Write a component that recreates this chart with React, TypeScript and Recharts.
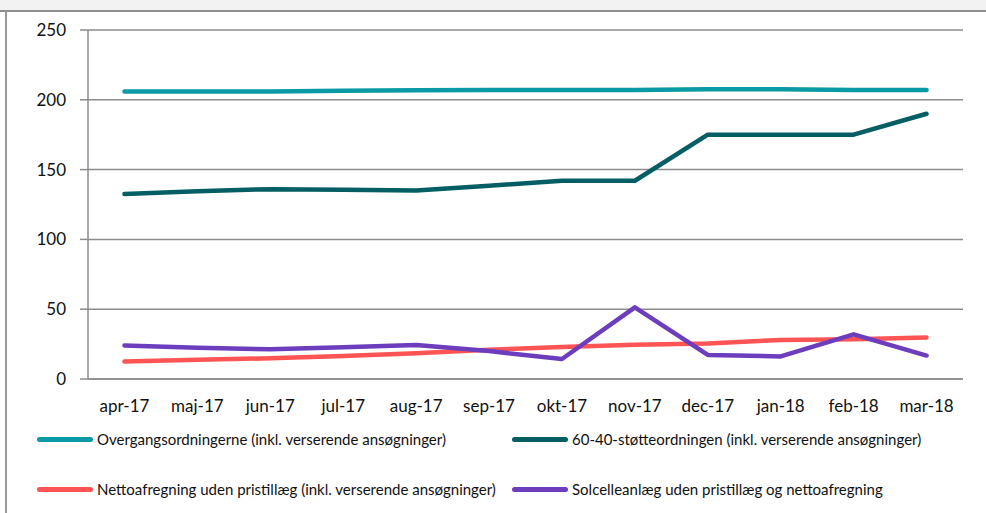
import React from "react";
import { LineChart, Line, XAxis, YAxis, CartesianGrid } from "recharts";

const months = ["apr-17","maj-17","jun-17","jul-17","aug-17","sep-17","okt-17","nov-17","dec-17","jan-18","feb-18","mar-18"];
const overgang = [206, 206, 206, 206.5, 206.8, 207, 207, 207, 207.5, 207.5, 207, 207];
const stotte6040 = [132.5, 134.5, 136, 135.5, 135, 138.5, 142, 142, 175, 175, 175, 190];
const netto = [12.5, 13.8, 14.8, 16.5, 18.4, 21, 23, 24.5, 25.5, 28, 28.5, 29.7];
const solcelle = [24, 22.3, 21.3, 22.8, 24.4, 20, 14.3, 51.3, 17.2, 16.2, 32, 16.8];
const yTicks = [0, 50, 100, 150, 200, 250];
const boundaryTicks = [0,1,2,3,4,5,6,7,8,9,10,11,12];
const midTicks = months.map((_, i) => i + 0.5);

const seriesDefs = [
  { key: "overgang", name: "Overgangsordningerne (inkl. verserende ansøgninger)", color: "#0a9aa6" },
  { key: "stotte6040", name: "60-40-støtteordningen (inkl. verserende ansøgninger)", color: "#045e63" },
  { key: "netto", name: "Nettoafregning uden pristillæg (inkl. verserende ansøgninger)", color: "#ff5454" },
  { key: "solcelle", name: "Solcelleanlæg uden pristillæg og nettoafregning", color: "#6c3dbd" },
];

const data = months.map((m, i) => ({
  pos: i + 0.5,
  month: m,
  overgang: overgang[i],
  stotte6040: stotte6040[i],
  netto: netto[i],
  solcelle: solcelle[i],
}));

const FONT = "Lato, 'Open Sans', sans-serif";
const AXIS = "#8c8c8c";

const LegendBlock = () => (
  <div style={{ position: "absolute", left: 0, top: 429, width: 986, height: 84, fontFamily: FONT, fontSize: 15, color: "#111" }}>
    {seriesDefs.map((s, i) => {
      const col = i % 2;
      const row = Math.floor(i / 2);
      return (
        <div key={s.key} style={{ position: "absolute", left: col === 0 ? 37 : 512, top: row * 50, display: "flex", alignItems: "center", height: 20, whiteSpace: "nowrap" }}>
          <span style={{ display: "inline-block", width: 56, height: 5, borderRadius: 3, background: s.color, marginRight: 4 }} />
          <span>{s.name}</span>
        </div>
      );
    })}
  </div>
);

export default function App() {
  return (
    <div style={{ position: "absolute", left: 0, top: 0, width: 986, height: 513, background: "#fff", overflow: "hidden" }}>
      <div style={{ position: "absolute", left: 0, top: 0, width: 986, height: 10, background: "#f2f2f2" }} />
      <div style={{ position: "absolute", left: 0, top: 10, width: 986, height: 2, background: "#8f8f8f" }} />
      <div style={{ position: "absolute", left: 5, top: 11, width: 1.5, height: 502, background: "#9a9a9a" }} />
      <div style={{ position: "absolute", left: 0, top: 0 }}>
        <LineChart width={986} height={513} data={data} margin={{ top: 30, right: 23, bottom: 94, left: 0 }}>
          <CartesianGrid vertical={false} stroke={AXIS} strokeWidth={1.5} />
          <XAxis
            dataKey="pos"
            type="number"
            domain={[0, 12]}
            ticks={boundaryTicks}
            tick={false}
            tickSize={7}
            height={7}
            stroke={AXIS}
            strokeWidth={1.5}
            interval={0}
          />
          <XAxis
            xAxisId="labels"
            dataKey="pos"
            type="number"
            domain={[0, 12]}
            ticks={midTicks}
            tickFormatter={(v: number) => months[Math.round(v - 0.5)]}
            axisLine={false}
            tickLine={false}
            tickMargin={8}
            height={33}
            interval={0}
            tick={{ fill: "#111", fontSize: 17, fontFamily: FONT }}
          />
          <YAxis
            domain={[0, 250]}
            ticks={yTicks}
            width={88}
            tickSize={8}
            tickMargin={14}
            stroke={AXIS}
            strokeWidth={1.5}
            interval={0}
            tick={{ fill: "#111", fontSize: 17, fontFamily: FONT }}
          />
          {seriesDefs.map((s) => (
            <Line
              key={s.key}
              dataKey={s.key}
              name={s.name}
              stroke={s.color}
              strokeWidth={4.5}
              strokeLinecap="round"
              strokeLinejoin="round"
              dot={false}
              type="linear"
              isAnimationActive={false}
            />
          ))}
        </LineChart>
      </div>
      <LegendBlock />
    </div>
  );
}
